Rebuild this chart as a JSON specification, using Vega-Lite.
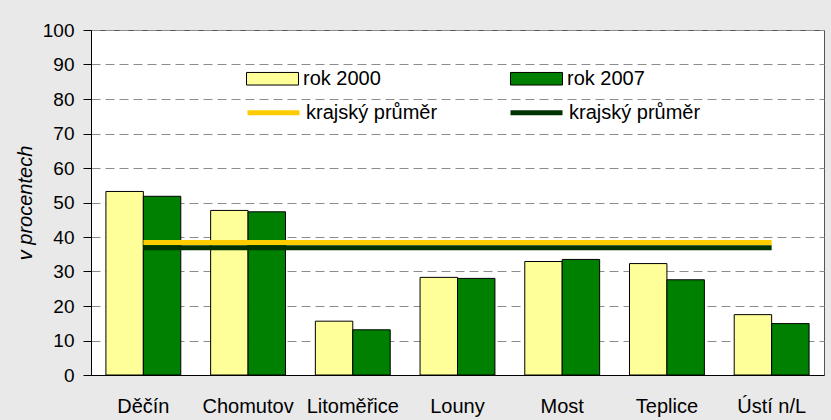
{
  "$schema": "https://vega.github.io/schema/vega-lite/v6.json",
  "autosize": "none",
  "width": 733,
  "height": 345,
  "padding": {"left": 91, "top": 30, "right": 7, "bottom": 45},
  "background": "#e9e9e9",
  "config": {
    "font": "Liberation Sans",
    "view": {"fill": "white", "stroke": "#555555", "strokeWidth": 1},
    "axis": {"labelFont": "Liberation Sans", "titleFont": "Liberation Sans", "labelColor": "black", "titleColor": "black"}
  },
  "datasets": {
    "bars": [
      {"okres": "Děčín", "rok": "rok 2000", "hodnota": 53.2},
      {"okres": "Děčín", "rok": "rok 2007", "hodnota": 51.8},
      {"okres": "Chomutov", "rok": "rok 2000", "hodnota": 47.7},
      {"okres": "Chomutov", "rok": "rok 2007", "hodnota": 47.3},
      {"okres": "Litoměřice", "rok": "rok 2000", "hodnota": 15.6},
      {"okres": "Litoměřice", "rok": "rok 2007", "hodnota": 13.1},
      {"okres": "Louny", "rok": "rok 2000", "hodnota": 28.3},
      {"okres": "Louny", "rok": "rok 2007", "hodnota": 28.0},
      {"okres": "Most", "rok": "rok 2000", "hodnota": 32.9},
      {"okres": "Most", "rok": "rok 2007", "hodnota": 33.5},
      {"okres": "Teplice", "rok": "rok 2000", "hodnota": 32.3},
      {"okres": "Teplice", "rok": "rok 2007", "hodnota": 27.6},
      {"okres": "Ústí n/L", "rok": "rok 2000", "hodnota": 17.5},
      {"okres": "Ústí n/L", "rok": "rok 2007", "hodnota": 14.9}
    ],
    "avg": [
      {"okres": "Děčín", "serie": "p2000", "hodnota": 38.4},
      {"okres": "Chomutov", "serie": "p2000", "hodnota": 38.4},
      {"okres": "Litoměřice", "serie": "p2000", "hodnota": 38.4},
      {"okres": "Louny", "serie": "p2000", "hodnota": 38.4},
      {"okres": "Most", "serie": "p2000", "hodnota": 38.4},
      {"okres": "Teplice", "serie": "p2000", "hodnota": 38.4},
      {"okres": "Ústí n/L", "serie": "p2000", "hodnota": 38.4},
      {"okres": "Děčín", "serie": "p2007", "hodnota": 36.9},
      {"okres": "Chomutov", "serie": "p2007", "hodnota": 36.9},
      {"okres": "Litoměřice", "serie": "p2007", "hodnota": 36.9},
      {"okres": "Louny", "serie": "p2007", "hodnota": 36.9},
      {"okres": "Most", "serie": "p2007", "hodnota": 36.9},
      {"okres": "Teplice", "serie": "p2007", "hodnota": 36.9},
      {"okres": "Ústí n/L", "serie": "p2007", "hodnota": 36.9}
    ]
  },
  "encoding": {
    "x": {
      "field": "okres",
      "type": "nominal",
      "sort": ["Děčín", "Chomutov", "Litoměřice", "Louny", "Most", "Teplice", "Ústí n/L"],
      "scale": {"paddingInner": 0.285, "paddingOuter": 0.1425},
      "axis": {
        "title": null,
        "labelAngle": 0,
        "labelFontSize": 20,
        "labelBaseline": "alphabetic",
        "labelPadding": 37,
        "ticks": false,
        "tickSize": 0,
        "domainColor": "black",
        "domainWidth": 1,
        "labelLimit": 200
      }
    },
    "y": {
      "field": "hodnota",
      "type": "quantitative",
      "scale": {"domain": [0, 100], "nice": false},
      "axis": {
        "title": "v procentech",
        "titleFontSize": 20,
        "titleFontStyle": "italic",
        "titleFontWeight": "normal",
        "titleX": -66,
        "titleY": 172.5,
        "titleAngle": -90,
        "titleBaseline": "middle",
        "titleAlign": "center",
        "values": [0, 10, 20, 30, 40, 50, 60, 70, 80, 90, 100],
        "labelFontSize": 19,
        "labelPadding": 9,
        "tickSize": 8,
        "tickColor": "black",
        "domainColor": "black",
        "grid": true,
        "gridDash": [9, 5],
        "gridColor": "#8c8c8c",
        "gridWidth": 1
      }
    }
  },
  "layer": [
    {
      "data": {"name": "bars"},
      "mark": {"type": "bar", "stroke": "black", "strokeWidth": 1},
      "encoding": {
        "xOffset": {"field": "rok", "type": "nominal", "scale": {"paddingInner": 0, "paddingOuter": 0}},
        "fill": {
          "field": "rok",
          "type": "nominal",
          "scale": {"domain": ["rok 2000", "rok 2007"], "range": ["#FFFF99", "#008000"]},
          "legend": {
            "title": null,
            "orient": "none",
            "legendX": 155,
            "legendY": 22,
            "direction": "horizontal",
            "columns": 2,
            "columnPadding": 127,
            "padding": 0,
            "symbolType": "M-1,-0.242H1V0.242H-1Z",
            "symbolSize": 2704,
            "symbolStrokeColor": "black",
            "symbolStrokeWidth": 1,
            "symbolOpacity": 1,
            "labelFontSize": 20,
            "labelOffset": 4,
            "labelColor": "black",
            "labelFont": "Liberation Sans"
          }
        }
      }
    },
    {
      "data": {"name": "avg"},
      "mark": {"type": "line", "strokeWidth": 5},
      "encoding": {
        "stroke": {
          "field": "serie",
          "type": "nominal",
          "scale": {"domain": ["p2000", "p2007"], "range": ["#FFCC00", "#003300"]},
          "legend": {
            "title": null,
            "orient": "none",
            "legendX": 154,
            "legendY": 54,
            "direction": "horizontal",
            "columns": 2,
            "columnPadding": 62,
            "padding": 0,
            "symbolType": "stroke",
            "symbolSize": 2704,
            "symbolStrokeWidth": 5,
            "labelExpr": "'krajský průměr'",
            "labelFontSize": 20,
            "labelOffset": 4,
            "labelColor": "black",
            "labelLimit": 300,
            "labelFont": "Liberation Sans"
          }
        }
      }
    }
  ]
}
